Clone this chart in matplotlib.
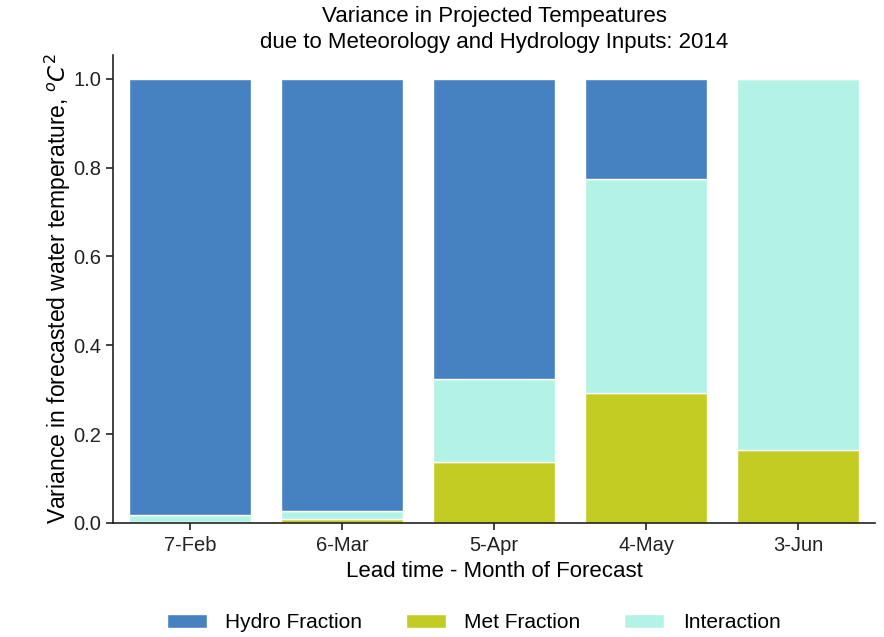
import matplotlib
matplotlib.use("Agg")
import matplotlib.pyplot as plt
import numpy as np

# Fraction of forecast variance per lead time
months = ["7-Feb", "6-Mar", "5-Apr", "4-May", "3-Jun"]
met_frac = [0.003, 0.008, 0.137, 0.293, 0.164]
interaction = [0.014, 0.020, 0.187, 0.482, 0.836]
hydro_frac = [0.983, 0.972, 0.676, 0.225, 0.0]

plt.rcParams["font.family"] = ["Liberation Sans", "DejaVu Sans"]
plt.rcParams["mathtext.fontset"] = "dejavusans"

c_hydro = "#4682C1"
c_met = "#C2CC22"
c_int = "#B3F3E6"

fig = plt.figure(figsize=(8.84, 6.37), dpi=100)
ax = fig.add_axes([0.128, 0.179, 0.862, 0.735])

x = np.arange(len(months))
met = np.array(met_frac)
inter = np.array(interaction)
hyd = np.array(hydro_frac)

ax.bar(x, met, width=0.8, color=c_met, edgecolor="white", linewidth=1, label="Met Fraction")
ax.bar(x, inter, width=0.8, bottom=met, color=c_int, edgecolor="white", linewidth=1, label="Interaction")
ax.bar(x, hyd, width=0.8, bottom=met + inter, color=c_hydro, edgecolor="white", linewidth=1, label="Hydro Fraction")

ax.set_xlim(-0.507, 4.507)
ax.set_ylim(0, 1.054)
ax.set_xticks(x)
ax.set_xticklabels(months)
ax.set_yticks([0, 0.2, 0.4, 0.6, 0.8, 1.0])
ax.tick_params(labelsize=14.5, length=5, width=1.2, colors="#222222")
ax.tick_params(axis="x", pad=4.5)
for side in ["top", "right"]:
    ax.spines[side].set_visible(False)
for side in ["left", "bottom"]:
    ax.spines[side].set_linewidth(1.2)
    ax.spines[side].set_color("#222222")

ax.set_xlabel("Lead time - Month of Forecast", fontsize=16, labelpad=4)
ax.set_ylabel("Variance in forecasted water temperature, $^oC^2$", fontsize=16.5, labelpad=0)
ax.set_title("Variance in Projected Tempeatures\ndue to Meteorology and Hydrology Inputs: 2014",
             fontsize=16, pad=5, linespacing=1.3)

handles, labels = ax.get_legend_handles_labels()
order = [2, 0, 1]
fig.legend([handles[i] for i in order], [labels[i] for i in order],
           loc="lower center", bbox_to_anchor=(0.536, -0.022), ncol=3, frameon=False,
           fontsize=15, handlelength=1.9, handleheight=0.7, columnspacing=2.1, handletextpad=0.9)

fig.savefig("out.png", dpi=100)
